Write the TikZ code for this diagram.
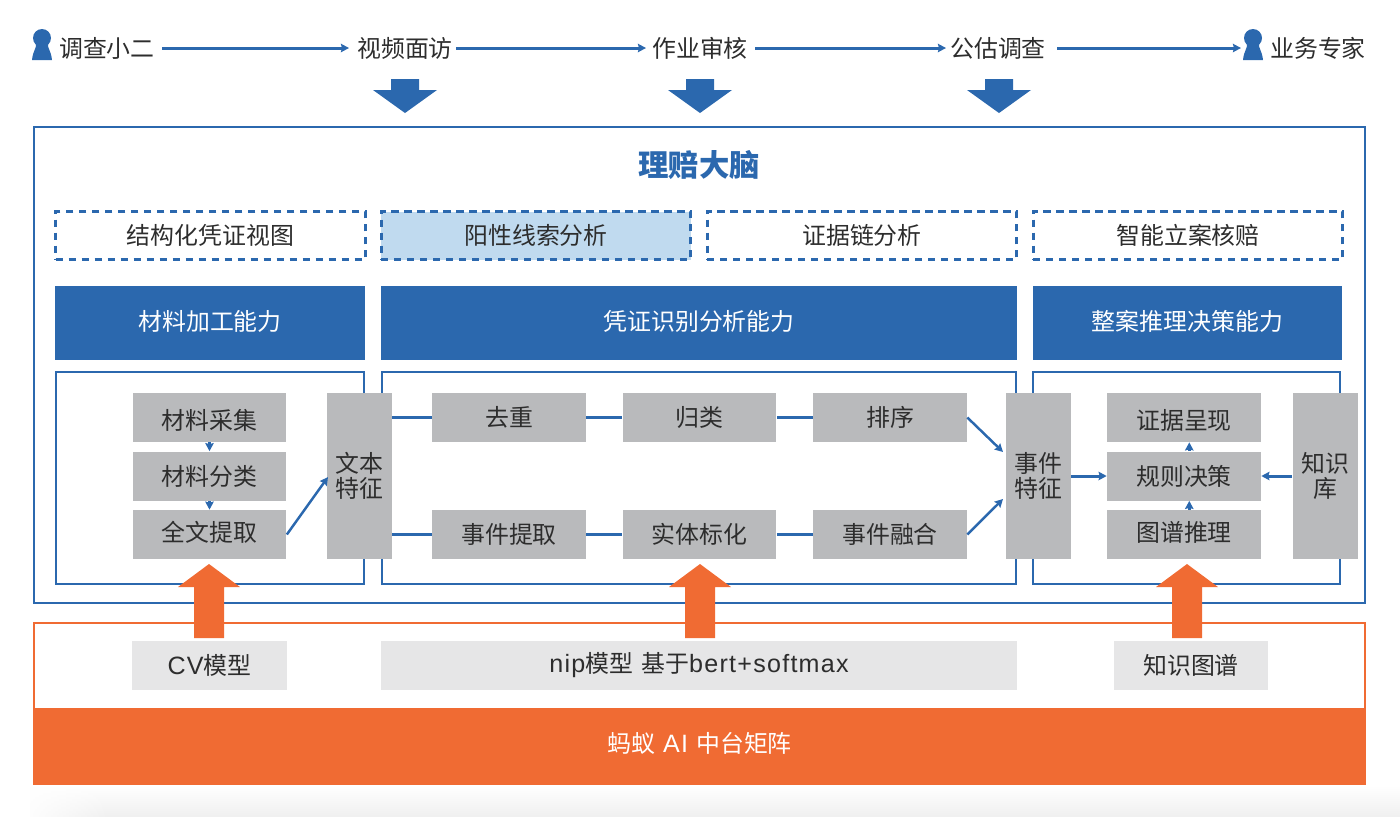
\documentclass[tikz,border=0pt]{standalone}
\usepackage{fontspec}
\setmainfont{Noto Sans CJK SC}
\newfontfamily\latinfont[LetterSpace=5,Scale=1.05]{Liberation Sans}
\usepackage{xcolor}
\definecolor{brain-blue}{RGB}{43,104,174}
\definecolor{pale-blue}{RGB}{192,218,239}
\definecolor{box-gray}{RGB}{185,186,188}
\definecolor{base-gray}{RGB}{230,230,231}
\definecolor{ai-orange}{RGB}{240,107,51}
\definecolor{ink}{RGB}{45,45,45}
\usepackage{tikz}
\usetikzlibrary{calc,fadings,arrows.meta}
\newcommand{\labelfont}{\fontsize{13.6pt}{13.9pt}\selectfont}
\newcommand{\persondraw}[1]{
	\fill[brain-blue,shift={(#1,0)}] (0,38) circle (9);
	\fill[brain-blue,shift={(#1,0)}] (-6,43) .. controls (-5,48) and (-9,50) .. (-10,60)
		-- (10,60) .. controls (9,50) and (5,48) .. (6,43) -- cycle;}
\newcommand{\bigdown}[1]{
	\fill[brain-blue,shift={(#1,0)}] (-14,79) -- (14,79) -- (14,90) -- (32,90)
		-- (0,113) -- (-32,90) -- (-14,90) -- cycle;}
\newcommand{\bigup}[1]{
	\fill[ai-orange,shift={(#1,0)}] (0,564) -- (31,587) -- (15,587) -- (15,638)
		-- (-15,638) -- (-15,587) -- (-31,587) -- cycle;}
\tikzset{
	toplabel/.style={text=ink,font=\labelfont,inner sep=0pt,outer sep=0pt},
	flow/.style={->,brain-blue,line width=1.7pt},
	slant/.style={->,brain-blue,line width=1.4pt},
	link/.style={brain-blue,line width=1.7pt},
	frameline/.style={draw=brain-blue,line width=1.6pt},
	dashbox/.style={draw=brain-blue,dash pattern=on 4.2pt off 3.2pt,line width=1.7pt,minimum width=6.2cm,
		minimum height=.96cm,text=ink,font=\labelfont},
	headbox/.style={fill=brain-blue,minimum height=1.48cm},
	headtext/.style={text=white,font=\labelfont,yshift=1.1pt},
	graybox/.style={fill=box-gray,minimum width=3.08cm,minimum height=.98cm,inner sep=0pt},
	graytext/.style={text=ink,font=\labelfont},
	tallbox/.style={fill=box-gray,text=ink,font=\labelfont,align=center,
		minimum width=1.3cm,minimum height=3.32cm,inner sep=0pt},
	basebox/.style={fill=base-gray,text=ink,font=\labelfont,minimum height=.98cm,inner sep=0pt},
}
\begin{document}
\begin{tikzpicture}[>={Stealth[length=4.6pt,width=4.8pt,inset=.6pt]},x=.02cm,y=-.02cm]
	\useasboundingbox (0,0) rectangle (1400,816);

	% faint shadow under the page
	\shade[top color=white,bottom color=black!6,draw=none] (30,785) rectangle (1400,816);
	\fill[white,path fading=east] (20,785) rectangle (110,818);

	% top line of roles
	\persondraw{42}
	\persondraw{1253}
	\node[toplabel] (surveyor) at (107,48) {调查小二};
	\node[toplabel] (video) at (405,48) {视频面访};
	\node[toplabel] (review) at (700,48) {作业审核};
	\node[toplabel] (assess) at (998,48) {公估调查};
	\node[toplabel] (expert) at (1318,48) {业务专家};
	\coordinate (s1) at (162,48);
	\coordinate (e1) at (349,48);
	\coordinate (s2) at (456,48);
	\coordinate (e2) at (646,48);
	\coordinate (s3) at (755,48);
	\coordinate (e3) at (946,48);
	\coordinate (s4) at (1057,48);
	\coordinate (e4) at (1241,48);
	\draw[flow] (s1) -- (e1);
	\draw[flow] (s2) -- (e2);
	\draw[flow] (s3) -- (e3);
	\draw[flow] (s4) -- (e4);
	\bigdown{405}
	\bigdown{700}
	\bigdown{999}

	% outer frame with title
	\draw[frameline] (34,127) rectangle (1365,603);
	\node[text=brain-blue,font=\fontsize{17.3pt}{18pt}\selectfont\bfseries] (brain) at (699,165) {理赔大脑};

	\node[dashbox] (view) at (210.5,235.5) {结构化凭证视图};
	\node[dashbox,fill=pale-blue] (clue) at (536,235.5) {阳性线索分析};
	\node[dashbox] (chain) at (862,235.5) {证据链分析};
	\node[dashbox] (claim) at (1188,235.5) {智能立案核赔};

	\node[headbox,minimum width=6.2cm,label={[headtext]center:材料加工能力}] (material) at (210,323) {};
	\node[headbox,minimum width=12.72cm,label={[headtext]center:凭证识别分析能力}] (voucher) at (699,323) {};
	\node[headbox,minimum width=6.2cm,label={[headtext]center:整案推理决策能力}] (decide) at (1187.5,323) {};

	% panels under the headers
	\draw[frameline] (56,372) rectangle (364,584);
	\draw[frameline] (382,372) rectangle (1016,584);
	\draw[frameline] (1033,372) rectangle (1340,584);

	\node[graybox,label={[graytext,yshift=-1.7pt]center:材料采集}] (collect) at (209.5,417.5) {};
	\node[graybox,label={[graytext]center:材料分类}] (classify) at (209.5,476) {};
	\node[graybox,label={[graytext,yshift=1.1pt]center:全文提取}] (fulltext) at (209.5,534.5) {};
	\node[tallbox] (textfeat) at (359.5,476) {文本\\特征};

	\node[graybox,label={[graytext]center:去重}] (dedup) at (509,417.5) {};
	\node[graybox,label={[graytext]center:归类}] (group) at (699.5,417.5) {};
	\node[graybox,label={[graytext]center:排序}] (sort) at (890,417.5) {};
	\node[graybox,label={[graytext]center:事件提取}] (extract) at (509,534.5) {};
	\node[graybox,label={[graytext]center:实体标化}] (entity) at (699.5,534.5) {};
	\node[graybox,label={[graytext]center:事件融合}] (fusion) at (890,534.5) {};
	\node[tallbox] (eventfeat) at (1038.5,476) {事件\\特征};

	\node[graybox,label={[graytext,yshift=-1.7pt]center:证据呈现}] (evidence) at (1184,417.5) {};
	\node[graybox,label={[graytext]center:规则决策}] (rule) at (1184,476) {};
	\node[graybox,label={[graytext,yshift=1.1pt]center:图谱推理}] (graph) at (1184,534.5) {};
	\node[tallbox] (kb) at (1325,476) {知识\\库};

	% connectors between the boxes
	\coordinate (t1) at (328,477);
	\coordinate (in1) at (1003,452);
	\coordinate (in2) at (1003,499);
	\draw[flow] (collect.south) -- (classify.north);
	\draw[flow] (classify.south) -- (fulltext.north);
	\draw[slant] (fulltext.east) -- (t1);
	\draw[link] (textfeat.east |- dedup) -- (dedup.west);
	\draw[link] (dedup) -- (group);
	\draw[link] (group) -- (sort);
	\draw[link] (textfeat.east |- extract) -- (extract.west);
	\draw[link] (extract) -- (entity);
	\draw[link] (entity) -- (fusion);
	\draw[slant] (sort.east) -- (in1);
	\draw[slant] (fusion.east) -- (in2);
	\draw[flow] (eventfeat.east) -- (rule.west);
	\draw[flow] (kb.west) -- (rule.east);
	\draw[flow] ([xshift=3]rule.north) -- ([xshift=3]evidence.south);
	\draw[flow] ([xshift=3]graph.north) -- ([xshift=3]rule.south);

	% lower band
	\draw[draw=ai-orange,line width=1.2pt] (34,623) rectangle (1365,710);
	\node[basebox,minimum width=3.1cm] (cv) at (209.5,665.5) {{\latinfont CV}模型};
	\node[basebox,minimum width=12.72cm] (nlp) at (699,665.5) {{\latinfont nip}模型{\latinfont\ }基于{\latinfont bert+softmax}};
	\node[basebox,minimum width=3.08cm] (kg) at (1191,665.5) {知识图谱};
	\node[fill=ai-orange,minimum width=26.66cm,minimum height=1.54cm,inner sep=0pt,
		label={[text=white,font=\labelfont,yshift=1.7pt]center:蚂蚁{\latinfont\ AI\ }中台矩阵}] (matrix) at (699.5,746.5) {};
	\bigup{209}
	\bigup{700}
	\bigup{1187}
\end{tikzpicture}
\end{document}
